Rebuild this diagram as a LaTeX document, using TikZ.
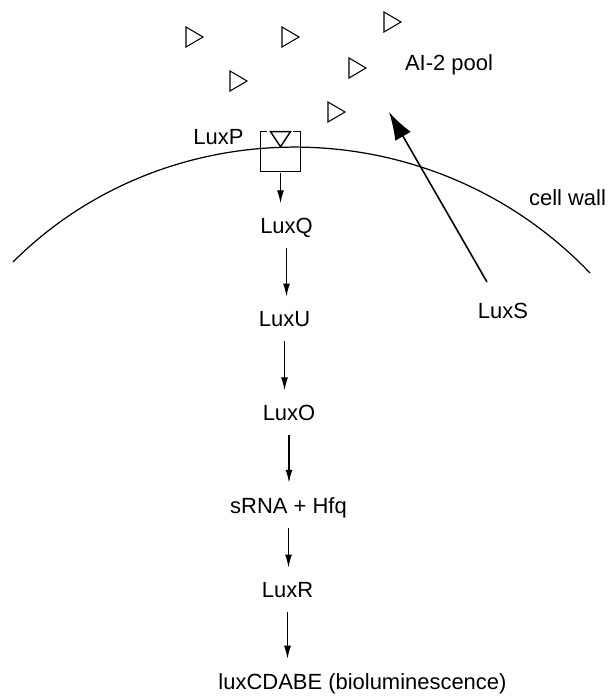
\documentclass[tikz,border=0pt]{standalone}
\usepackage{fontspec}
\setmainfont{Liberation Sans}
\usetikzlibrary{arrows.meta}

\begin{document}
\begin{tikzpicture}[x=0.02cm,y=-0.02cm,
    lbl/.style={inner sep=0pt,anchor=base,text depth=0pt,font=\fontsize{12.5}{15}\selectfont},
    flow/.style={line width=0.7pt,-{Latex[length=2.6mm,width=1.4mm]},shorten <=0.3cm,shorten >=0.28cm}]
  \useasboundingbox (0,0) rectangle (610,696);
  \foreach \x/\y in {194/37,290/37,392/22,238/81,357/68,336/112}{% AI-2 molecules
    \draw [line width=0.6pt,shift={(\x,\y)}] (-8,-10) -- (9,0) -- (-8,10) -- cycle;}
  \node [lbl] (pool) at (449,71) {AI-2 pool};
  \draw [line width=0.7pt] (13,262) .. controls (168,107) and (431,107) .. (590,273);% cell wall
  \node [lbl] (wall) at (567.5,205) {cell wall};
  \node [inner sep=0pt,minimum width=0.78cm,minimum height=0.78cm] (box) at (280.5,151.5) {};
  \draw [line width=0.6pt] (box.north west) ++(6,0) -- (box.north west) -- (box.south west)
        -- (box.south east) -- (box.north east) -- ++(-7,0);
  \draw [line width=0.8pt] (box.north) ++(-10,0) -- ++(20,0) -- ++(-10,15) -- cycle;
  \node [lbl] (luxp) at (218.5,144) {LuxP};
  \node [lbl] (luxq) at (286.5,233) {LuxQ};
  \node [lbl] (luxu) at (284.5,326) {LuxU};
  \node [lbl] (luxo) at (289,420) {LuxO};
  \node [lbl] (srna) at (288.5,513) {sRNA + Hfq};
  \node [lbl] (luxr) at (287.5,597) {LuxR};
  \node [lbl] (lux) at (362.5,689) {luxCDABE (bioluminescence)};
  \node [lbl] (luxs) at (503,318) {LuxS};
  \draw [flow,shorten <=0.04cm] (box.south) -- (box.south |- luxq.north);
  \draw [flow] (luxq.south) -- (luxq.south |- luxu.north);
  \draw [flow] (luxu.south) -- (luxu.south |- luxo.north);
  \draw [flow] (luxo.south) -- (luxo.south |- srna.north);
  \draw [flow] (srna.south) -- (srna.south |- luxr.north);
  \draw [flow] (luxr.south) -- (luxr.south |- lux.north);
  \coordinate (s-tail) at (487,282);
  \coordinate (s-tip) at (389,112);
  \draw [line width=0.9pt,-{Latex[length=5.6mm,width=3.6mm]}] (s-tail) -- (s-tip);
\end{tikzpicture}
\end{document}
